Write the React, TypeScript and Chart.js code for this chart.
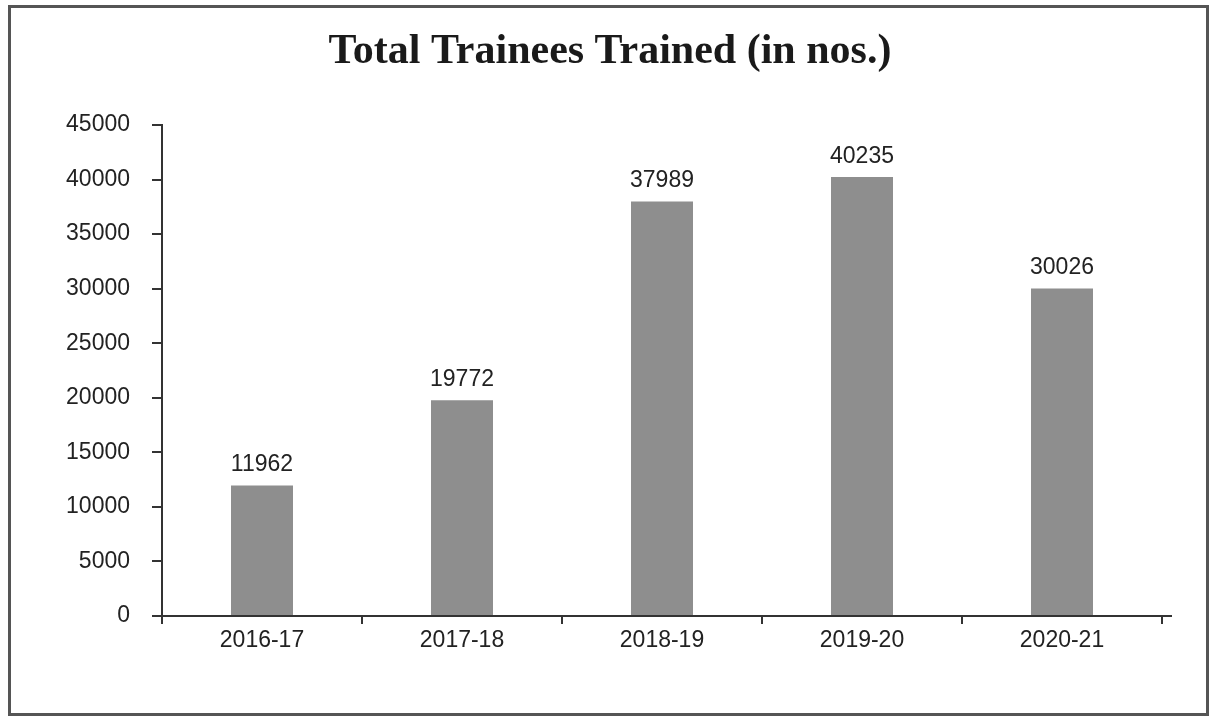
import React, { useEffect, useRef } from "react";
import { Chart, registerables } from "chart.js";

Chart.register(...registerables);

const TITLE = "Total Trainees Trained (in nos.)";
const categories = ["2016-17", "2017-18", "2018-19", "2019-20", "2020-21"];
const trainees = [11962, 19772, 37989, 40235, 30026];
const yMax = 45000;
const yStep = 5000;

const BAR_COLOR = "#8e8e8e";
const AXIS_COLOR = "#333333";
const TEXT_COLOR = "#222222";
const SANS = "'Liberation Sans', Arial, sans-serif";

const framePlugin = {
  id: "frameAndTitle",
  beforeDraw(chart: any) {
    const { ctx } = chart;
    ctx.save();
    ctx.fillStyle = "#ffffff";
    ctx.fillRect(0, 0, chart.width, chart.height);
    ctx.strokeStyle = "#555555";
    ctx.lineWidth = 3;
    ctx.strokeRect(9.5, 6.5, 1198, 708);
    ctx.fillStyle = "#1a1a1a";
    ctx.font = "bold 42px 'Liberation Serif', 'Times New Roman', serif";
    ctx.textAlign = "center";
    ctx.textBaseline = "alphabetic";
    ctx.fillText(TITLE, 610, 63);
    ctx.restore();
  },
  afterDraw(chart: any) {
    const { ctx, chartArea } = chart;
    ctx.save();
    ctx.strokeStyle = AXIS_COLOR;
    ctx.lineWidth = 2;
    ctx.beginPath();
    ctx.moveTo(chartArea.right, chartArea.bottom);
    ctx.lineTo(chartArea.right + 10, chartArea.bottom);
    ctx.stroke();
    ctx.fillStyle = TEXT_COLOR;
    ctx.font = `23px ${SANS}`;
    ctx.textAlign = "center";
    ctx.textBaseline = "alphabetic";
    const meta = chart.getDatasetMeta(0);
    meta.data.forEach((bar: any, i: number) => {
      ctx.fillText(String(trainees[i]), bar.x, bar.y - 14);
    });
    ctx.restore();
  },
};

export default function App() {
  const canvasRef = useRef<HTMLCanvasElement | null>(null);

  useEffect(() => {
    if (!canvasRef.current) return;
    const chart = new Chart(canvasRef.current, {
      type: "bar",
      data: {
        labels: categories,
        datasets: [
          {
            data: trainees,
            backgroundColor: BAR_COLOR,
            borderWidth: 0,
            barPercentage: 0.62,
            categoryPercentage: 0.5,
          },
        ],
      },
      options: {
        responsive: false,
        animation: false,
        layout: { padding: { left: 0, right: 48, top: 125, bottom: 0 } },
        plugins: {
          legend: { display: false },
          title: { display: false },
          tooltip: { enabled: false },
        },
        scales: {
          x: {
            afterFit(scale: any) {
              scale.height = 100;
            },
            grid: {
              display: true,
              drawOnChartArea: false,
              drawTicks: true,
              tickLength: 8,
              color: AXIS_COLOR,
              lineWidth: 2,
              offset: true,
            },
            border: { display: true, color: AXIS_COLOR, width: 2 },
            ticks: {
              color: TEXT_COLOR,
              font: { family: SANS, size: 23 },
              padding: 3,
              maxRotation: 0,
            },
          },
          y: {
            min: 0,
            max: yMax,
            afterFit(scale: any) {
              scale.width = 162;
            },
            grid: {
              display: true,
              drawOnChartArea: false,
              drawTicks: true,
              tickLength: 10,
              color: AXIS_COLOR,
              lineWidth: 2,
            },
            border: { display: true, color: AXIS_COLOR, width: 2 },
            ticks: {
              stepSize: yStep,
              color: TEXT_COLOR,
              font: { family: SANS, size: 23 },
              padding: 22,
              callback: (v: any) => String(v),
            },
          },
        },
      },
      plugins: [framePlugin],
    });
    return () => chart.destroy();
  }, []);

  return (
    <div style={{ position: "fixed", left: 0, top: 0, width: 1210, height: 716, background: "#fff" }}>
      <canvas ref={canvasRef} width={1210} height={716} style={{ display: "block", width: 1210, height: 716 }} />
    </div>
  );
}
